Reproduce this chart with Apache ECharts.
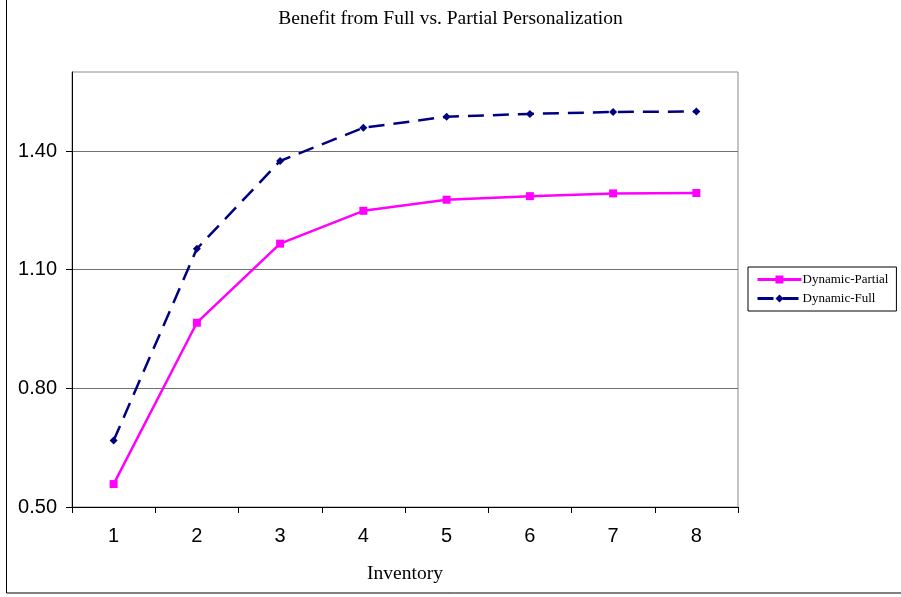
<!DOCTYPE html>
<html>
<head>
<meta charset="utf-8">
<script src="https://cdn.jsdelivr.net/npm/echarts@6/dist/echarts.min.js"></script>
<style>
  html, body { margin: 0; padding: 0; background: #fff; }
  #chart { width: 901px; height: 597px; }
</style>
</head>
<body>
<div id="chart"></div>
<script>
// Inventory levels on the x axis
const inventory = ['1', '2', '3', '4', '5', '6', '7', '8'];
// Benefit values per inventory level
const dynamicPartial = [0.558, 0.966, 1.166, 1.249, 1.277, 1.286, 1.293, 1.294];
const dynamicFull = [0.668, 1.153, 1.375, 1.459, 1.487, 1.494, 1.499, 1.500];
// Labelled ticks on the value axis
const yTicks = [0.5, 0.8, 1.1, 1.4];

const serif = '"Liberation Serif", "Times New Roman", serif';
const sans = '"Liberation Sans", Arial, sans-serif';

const chart = echarts.init(document.getElementById('chart'), null, { renderer: 'canvas' });

chart.setOption({
  animation: false,
  backgroundColor: '#fff',
  title: {
    text: 'Benefit from Full vs. Partial Personalization',
    left: 'center',
    top: 4,
    textStyle: { fontFamily: serif, fontSize: 19.5, fontWeight: 'normal', color: '#000' }
  },
  graphic: [{
    type: 'rect',
    shape: { x: 6.5, y: -2, width: 900, height: 595 },
    style: { fill: 'none', stroke: '#000', lineWidth: 1 },
    silent: true
  }],
  grid: {
    left: 72, top: 72, right: 163, bottom: 90,
    show: true, borderColor: '#8a8a8a', borderWidth: 1
  },
  legend: {
    orient: 'vertical',
    left: 748, top: 267,
    padding: [6, 8, 6, 8],
    itemWidth: 44, itemHeight: 10, itemGap: 6,
    borderColor: '#000', borderWidth: 1,
    lineStyle: { width: 3 },
    textStyle: { fontFamily: serif, fontSize: 13, color: '#000', padding: [0, 0, 0, -4] },
    data: ['Dynamic-Partial', 'Dynamic-Full']
  },
  xAxis: {
    type: 'category',
    data: inventory,
    boundaryGap: true,
    name: 'Inventory',
    nameLocation: 'middle',
    nameGap: 57,
    nameTextStyle: { fontFamily: serif, fontSize: 19.5, color: '#000' },
    axisLine: { lineStyle: { color: '#000', width: 1 } },
    axisTick: { show: true, length: 6, lineStyle: { color: '#000' } },
    axisLabel: { fontFamily: sans, fontSize: 20, color: '#000', margin: 19 },
    splitLine: { show: false }
  },
  yAxis: {
    type: 'value',
    min: 0.5,
    max: 1.6,
    axisLine: { show: true, lineStyle: { color: '#000', width: 1 } },
    axisTick: { show: true, length: 6, lineStyle: { color: '#000' }, customValues: yTicks },
    axisLabel: {
      fontFamily: sans, fontSize: 20, color: '#000', margin: 15,
      customValues: yTicks,
      formatter: v => v.toFixed(2)
    },
    splitLine: { show: true, lineStyle: { color: '#707070', width: 1 } }
  },
  series: [
    {
      name: 'Dynamic-Partial',
      type: 'line',
      data: dynamicPartial,
      symbol: 'rect',
      symbolSize: 8,
      itemStyle: { color: '#ff00ff' },
      lineStyle: { color: '#ff00ff', width: 2.5 },
      z: 3
    },
    {
      name: 'Dynamic-Full',
      type: 'line',
      data: dynamicFull,
      symbol: 'diamond',
      symbolSize: 8,
      itemStyle: { color: '#000080' },
      lineStyle: { color: '#000080', width: 2.5, type: [16, 9] },
      z: 4
    }
  ]
});
</script>
</body>
</html>
